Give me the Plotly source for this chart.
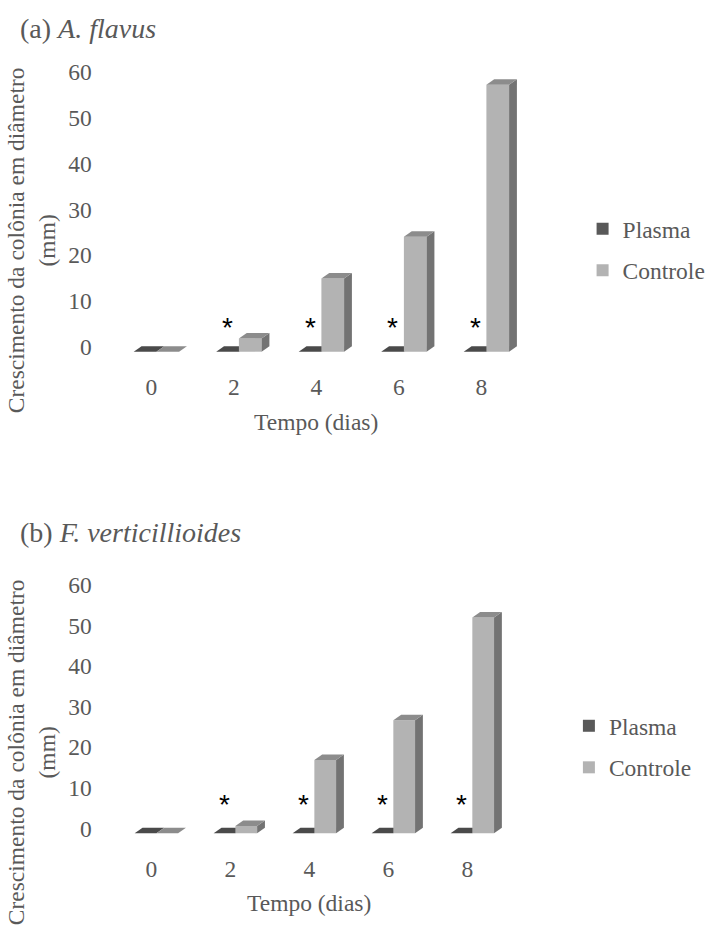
import plotly.graph_objects as go

W, H = 711, 930
SERIF = "Liberation Serif, Times New Roman, serif"
SANS = "Liberation Sans, Arial, sans-serif"
TXT = "#595959"

# ---------------- data ----------------
days = [0, 2, 4, 6, 8]
day_labels = ["0", "2", "4", "6", "8"]
series_names = ["Plasma", "Controle"]
plasma_a = [0, 0, 0, 0, 0]
controle_a = [0, 2.9, 16.0, 25.1, 58.3]
plasma_b = [0, 0, 0, 0, 0]
controle_b = [0, 1.8, 18.1, 27.9, 53.2]
significant = [False, True, True, True, True]
y_ticks = [0, 10, 20, 30, 40, 50, 60]
panel_titles = ["(a) <i>A. flavus</i>", "(b) <i>F. verticillioides</i>"]
y_title = "Crescimento da colônia em diâmetro<br>(mm)"
x_title = "Tempo (dias)"

# ---------------- style ----------------
PLASMA_FRONT = "#595959"
PLASMA_TOP = "#4a4a4a"
CTRL_FRONT = "#b3b3b3"
CTRL_TOP = "#8c8c8c"
CTRL_SIDE = "#737373"
BAR_FRAC = 0.275       # bar width as fraction of the day step
DEPTH_X_PX = 8.0       # 3-D depth offsets in pixels
DEPTH_Y_PX = 5.5

panels = [
    dict(plasma=plasma_a, controle=controle_a, title=panel_titles[0],
         left=100, right=560, day0=160, px_day=42.2,
         top=60, bottom=362, base=351.7, px_unit=4.58,
         title_y=28, ytitle_y=240, xtitle_y=422, star_shift=24,
         legend_x=596, legend_y=250),
    dict(plasma=plasma_b, controle=controle_b, title=panel_titles[1],
         left=100, right=560, day0=160, px_day=40.4,
         top=560, bottom=844, base=833.3, px_unit=4.056,
         title_y=532, ytitle_y=752, xtitle_y=903, star_shift=29,
         legend_x=582, legend_y=747),
]

fig = go.Figure()
shapes, annotations = [], []
layout_axes = {}
step = days[1] - days[0]
w = BAR_FRAC * step


def poly(pts):
    return "M " + " L ".join(f"{x:.4f},{y:.4f}" for x, y in pts) + " Z"


for k, p in enumerate(panels):
    sfx = "" if k == 0 else str(k + 1)
    xa, ya = "x" + sfx, "y" + sfx
    leg = "legend" + sfx
    xmin = (p["left"] - p["day0"]) / p["px_day"]
    xmax = (p["right"] - p["day0"]) / p["px_day"]
    ymax = (p["base"] - p["top"]) / p["px_unit"]
    ymin = -(p["bottom"] - p["base"]) / p["px_unit"]
    dx = DEPTH_X_PX / p["px_day"]
    dy = DEPTH_Y_PX / p["px_unit"]

    fig.add_trace(go.Bar(x=days, y=p["plasma"], width=w, offset=-w,
                         marker=dict(color=PLASMA_FRONT, line=dict(width=0)),
                         name=series_names[0], xaxis=xa, yaxis=ya, legend=leg,
                         legendgroup=f"p{k}", hoverinfo="skip"))
    fig.add_trace(go.Bar(x=days, y=p["controle"], width=w, offset=0,
                         marker=dict(color=CTRL_FRONT, line=dict(width=0)),
                         name=series_names[1], xaxis=xa, yaxis=ya, legend=leg,
                         legendgroup=f"c{k}", hoverinfo="skip"))

    for d, pv, cv, sig in zip(days, p["plasma"], p["controle"], significant):
        # plasma faces (below so the control front face covers them)
        x0, x1 = d - w, d
        shapes.append(dict(type="path", xref=xa, yref=ya, layer="below",
                           path=poly([(x0, pv), (x0 + dx, pv + dy), (x1 + dx, pv + dy), (x1, pv)]),
                           fillcolor=PLASMA_TOP, line=dict(width=0)))
        # control faces
        c0, c1 = d, d + w
        shapes.append(dict(type="path", xref=xa, yref=ya, layer="above",
                           path=poly([(c1, 0), (c1 + dx, dy), (c1 + dx, cv + dy), (c1, cv)]),
                           fillcolor=CTRL_SIDE, line=dict(width=0)))
        shapes.append(dict(type="path", xref=xa, yref=ya, layer="above",
                           path=poly([(c0, cv), (c0 + dx, cv + dy), (c1 + dx, cv + dy), (c1, cv)]),
                           fillcolor=CTRL_TOP, line=dict(width=0)))
        if sig:
            annotations.append(dict(x=d - w / 2, y=pv, xref=xa, yref=ya, text="*",
                                    showarrow=False, yshift=p["star_shift"],
                                    font=dict(family=SANS, size=28, color="black")))

    annotations.append(dict(x=18 / W, y=1 - p["title_y"] / H, xref="paper", yref="paper",
                            xanchor="left", yanchor="middle", text=p["title"], showarrow=False,
                            font=dict(family=SERIF, size=28, color=TXT)))
    annotations.append(dict(x=32 / W, y=1 - p["ytitle_y"] / H, xref="paper", yref="paper",
                            xanchor="center", yanchor="middle", text=y_title, textangle=-90,
                            showarrow=False, font=dict(family=SERIF, size=23.5, color=TXT)))
    annotations.append(dict(x=days[2], xref=xa, xshift=-5, y=1 - p["xtitle_y"] / H, yref="paper",
                            xanchor="center", yanchor="middle", text=x_title, showarrow=False,
                            font=dict(family=SERIF, size=23.5, color=TXT)))

    layout_axes["xaxis" + sfx] = dict(
        domain=[p["left"] / W, p["right"] / W], range=[xmin, xmax], anchor=ya,
        tickvals=days, ticktext=day_labels, showgrid=False, zeroline=False,
        showline=False, ticks="", ticklabelshift=-5, ticklabelstandoff=8,
        tickfont=dict(family=SERIF, size=23.5, color=TXT), fixedrange=True)
    layout_axes["yaxis" + sfx] = dict(
        domain=[1 - p["bottom"] / H, 1 - p["top"] / H], range=[ymin, ymax], anchor=xa,
        tickvals=y_ticks, showgrid=False, zeroline=False, showline=False, ticks="",
        ticklabelshift=-5, ticklabelstandoff=5,
        tickfont=dict(family=SERIF, size=23.5, color=TXT), fixedrange=True)
    layout_axes[leg] = dict(
        x=p["legend_x"] / W, xanchor="left", y=1 - p["legend_y"] / H, yanchor="middle",
        xref="paper", yref="paper", traceorder="grouped", tracegroupgap=8,
        font=dict(family=SERIF, size=23.5, color=TXT), bgcolor="rgba(0,0,0,0)")

fig.update_layout(
    width=W, height=H, autosize=False,
    margin=dict(l=0, r=0, t=0, b=0),
    paper_bgcolor="white", plot_bgcolor="white",
    barmode="overlay", showlegend=True,
    shapes=shapes, annotations=annotations,
    **layout_axes,
)

fig.write_html("out.html", config={"displayModeBar": False},
               post_script="document.body.style.margin='0';document.body.style.overflow='hidden';")
